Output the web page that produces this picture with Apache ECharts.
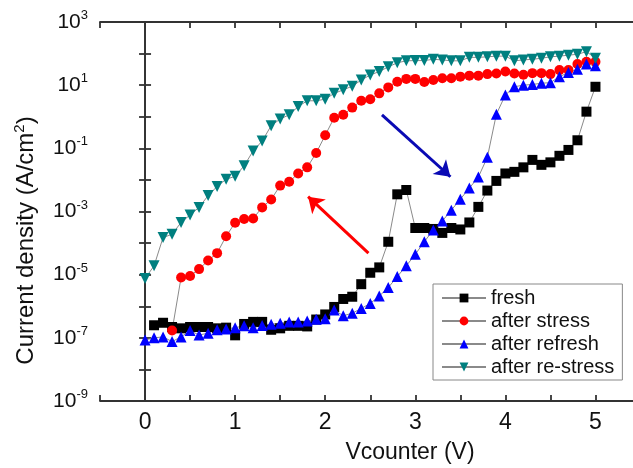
<!DOCTYPE html>
<html lang="en">
<head>
<meta charset="UTF-8">
<title>Current density vs Vcounter</title>
<script src="https://cdn.jsdelivr.net/npm/echarts@6/dist/echarts.min.js"></script>
<style>
  html, body { margin: 0; padding: 0; background: #fff; }
  #main { width: 633px; height: 468px; }
</style>
</head>
<body>
<div id="main"></div>
<script>
  // Vcounter values (V)
  var voltage = [0.0, 0.1, 0.2, 0.3, 0.4, 0.5, 0.6, 0.7, 0.8, 0.9,
                 1.0, 1.1, 1.2, 1.3, 1.4, 1.5, 1.6, 1.7, 1.8, 1.9,
                 2.0, 2.1, 2.2, 2.3, 2.4, 2.5, 2.6, 2.7, 2.8, 2.9,
                 3.0, 3.1, 3.2, 3.3, 3.4, 3.5, 3.6, 3.7, 3.8, 3.9,
                 4.0, 4.1, 4.2, 4.3, 4.4, 4.5, 4.6, 4.7, 4.8, 4.9, 5.0];

  // current density (A/cm2)
  var fresh = [null, 2.5e-7, 3.0e-7, 2.2e-7, 2.0e-7, 2.2e-7, 2.2e-7, 2.2e-7, 2.0e-7, 2.1e-7,
               1.2e-7, 2.75e-7, 3.2e-7, 3.2e-7, 1.8e-7, 2.0e-7, 2.4e-7, 2.4e-7, 2.3e-7, 3.8e-7,
               5.5e-7, 9.5e-7, 1.7e-6, 2.0e-6, 5.0e-6, 1.15e-5, 1.7e-5, 1.1e-4, 3.5e-3, 4.8e-3,
               3.0e-4, 3.0e-4, 2.8e-4, 2.1e-4, 3.0e-4, 2.7e-4, 4.5e-4, 1.4e-3, 4.6e-3, 9.3e-3,
               1.6e-2, 1.8e-2, 2.5e-2, 4.3e-2, 3.0e-2, 3.6e-2, 5.8e-2, 8.9e-2, 0.18, 1.45, 8.9];
  var afterStress = [null, null, null, 1.7e-7, 8.1e-6, 9.1e-6, 1.5e-5, 2.8e-5, 4.8e-5, 1.65e-4,
               4.4e-4, 5.8e-4, 6.0e-4, 1.35e-3, 2.4e-3, 6.6e-3, 8.7e-3, 1.6e-2, 2.5e-2, 7.1e-2,
               0.26, 0.93, 1.15, 1.95, 3.2, 3.6, 5.5, 8.5, 12.9, 15.8,
               15.8, 12.6, 14.5, 16.6, 16.6, 18.6, 20, 20, 22.4, 23.4,
               27, 23.4, 21.4, 24, 24, 22.4, 30, 30, 47, 55, 55];
  var afterRefresh = [8.5e-8, 1.0e-7, 1.07e-7, 7.6e-8, 1.07e-7, 1.7e-7, 1.23e-7, 1.4e-7, 1.8e-7, 1.9e-7,
               2.1e-7, 2.4e-7, 2.1e-7, 2.45e-7, 2.7e-7, 2.9e-7, 3.2e-7, 3.2e-7, 3.4e-7, 3.9e-7,
               4.0e-7, 7.6e-7, 5.0e-7, 6.0e-7, 8.5e-7, 1.23e-6, 2.1e-6, 3.9e-6, 8.7e-6, 1.9e-5,
               4.4e-5, 1.1e-4, 2.6e-4, 5.0e-4, 1.1e-3, 2.45e-3, 5.5e-3, 1.23e-2, 5.2e-2, 1.2,
               4.9, 8.9, 10, 10.5, 11.5, 12, 18.6, 25, 32, 47, 41];
  var afterReStress = [7.6e-6, 1.9e-5, 1.5e-4, 1.9e-4, 4.5e-4, 7.8e-4, 1.35e-3, 3.2e-3, 6.2e-3, 1.05e-2,
               1.3e-2, 2.8e-2, 8.3e-2, 0.17, 0.52, 0.85, 1.15, 2.1, 3.2, 3.2,
               3.6, 5.5, 7.1, 9.3, 14.5, 21, 27, 38, 51, 59,
               60, 60, 66, 63, 59, 59, 76, 76, 79, 83,
               83, 59, 63, 66, 71, 79, 83, 89, 95, 115, 71];

  var seriesNames = ['fresh', 'after stress', 'after refresh', 'after re-stress'];
  var seriesColors = ['#000000', '#ff0000', '#0000ff', '#007f7f'];

  // arrows: [start, tip] in data units
  var redArrow = [[2.48, 4.8e-5], [1.81, 2.95e-3]];
  var blueArrow = [[2.63, 1.15], [3.39, 0.0126]];

  var FONT = 'Liberation Sans';

  function pairs(arr) {
    var out = [];
    for (var i = 0; i < voltage.length; i++) {
      if (arr[i] != null) out.push([voltage[i], arr[i]]);
    }
    return out;
  }

  function makeSeries(idx, values, symbol, size, rotate) {
    return {
      name: seriesNames[idx],
      type: 'line',
      data: pairs(values),
      symbol: symbol,
      symbolSize: size,
      symbolRotate: rotate || 0,
      showAllSymbol: true,
      lineStyle: { color: '#8a8a8a', width: 1 },
      itemStyle: { color: seriesColors[idx] },
      emphasis: { disabled: true },
      animation: false
    };
  }

  var myChart = echarts.init(document.getElementById('main'));

  var s0 = makeSeries(0, fresh, 'rect', 10);
  var s1 = makeSeries(1, afterStress, 'circle', 10);
  var s2 = makeSeries(2, afterRefresh, 'triangle', 11);
  var s3 = makeSeries(3, afterReStress, 'triangle', 11, 180);

  s0.markLine = {
    silent: true,
    animation: false,
    symbol: ['none', 'arrow'],
    symbolSize: 15,
    label: { show: false },
    data: [
      [{ coord: redArrow[0], lineStyle: { color: '#ff0000', width: 3, type: 'solid' }, itemStyle: { color: '#ff0000' } },
       { coord: redArrow[1] }],
      [{ coord: blueArrow[0], lineStyle: { color: '#0a0ab4', width: 3, type: 'solid' }, itemStyle: { color: '#0a0ab4' } },
       { coord: blueArrow[1] }]
    ]
  };

  var axisLineStyle = { color: '#333', width: 1.8 };

  var option = {
    backgroundColor: '#fff',
    textStyle: { fontFamily: FONT },
    grid: { left: 100, top: 22, right: -3, bottom: 67, containLabel: false, outerBoundsMode: 'none' },
    legend: {
      orient: 'vertical',
      left: 433,
      top: 284,
      padding: [4, 8, 3, 8],
      borderColor: '#888',
      borderWidth: 1,
      itemWidth: 44,
      itemHeight: 11,
      itemGap: 3,
      textStyle: { fontSize: 20, fontFamily: FONT, color: '#111', lineHeight: 20 },
      data: seriesNames
    },
    xAxis: [{
      type: 'value',
      min: -0.5,
      max: 5.45,
      interval: 0.5,
      position: 'bottom',
      name: 'Vcounter (V)',
      nameLocation: 'middle',
      nameGap: 40,
      nameTextStyle: { fontSize: 23, color: '#111', fontFamily: FONT, padding: [0, 0, 0, 84] },
      axisLine: { lineStyle: axisLineStyle },
      axisTick: { inside: true, length: 6, lineStyle: axisLineStyle },
      axisLabel: {
        fontSize: 23, color: '#111', fontFamily: FONT, margin: 10,
        formatter: function (v) {
          return Math.abs(v - Math.round(v)) < 1e-6 && v >= 0 && v <= 5 ? String(Math.round(v)) : '';
        }
      },
      splitLine: { show: false }
    }, {
      type: 'value',
      min: -0.5,
      max: 5.45,
      interval: 0.5,
      position: 'top',
      axisLine: { lineStyle: axisLineStyle },
      axisTick: { inside: true, length: 6, lineStyle: axisLineStyle },
      axisLabel: { show: false },
      splitLine: { show: false }
    }],
    yAxis: [{
      type: 'log',
      logBase: 10,
      min: 1e-9,
      max: 1e3,
      interval: 1,
      position: 'left',
      name: '{a|Current density (A/cm}{s|2}{a|)}',
      nameLocation: 'middle',
      nameGap: 60,
      nameTextStyle: {
        padding: [0, 58, 0, 0],
        rich: {
          a: { fontSize: 24, color: '#111', fontFamily: FONT, lineHeight: 28 },
          s: { fontSize: 15, color: '#111', fontFamily: FONT, verticalAlign: 'top', lineHeight: 16 }
        }
      },
      axisLine: { lineStyle: axisLineStyle },
      axisTick: { inside: true, length: 6, lineStyle: axisLineStyle },
      axisLabel: {
        margin: 12,
        formatter: function (v) {
          var e = Math.round(Math.log10(v));
          if (e % 2 === 0) return '';
          return '{b|10}{s|' + e + '}';
        },
        rich: {
          b: { fontSize: 21, color: '#111', fontFamily: FONT, lineHeight: 26 },
          s: { fontSize: 13, color: '#111', fontFamily: FONT, verticalAlign: 'top', lineHeight: 14 }
        }
      },
      splitLine: { show: false }
    }, {
      type: 'log',
      logBase: 10,
      min: 1e-9,
      max: 1e3,
      interval: 1,
      position: 'right',
      axisLine: { show: true, lineStyle: axisLineStyle },
      axisTick: { show: true, inside: true, length: 6, lineStyle: axisLineStyle },
      axisLabel: { show: false },
      splitLine: { show: false }
    }],
    series: [s0, s1, s2, s3]
  };

  myChart.setOption(option);
</script>
</body>
</html>
